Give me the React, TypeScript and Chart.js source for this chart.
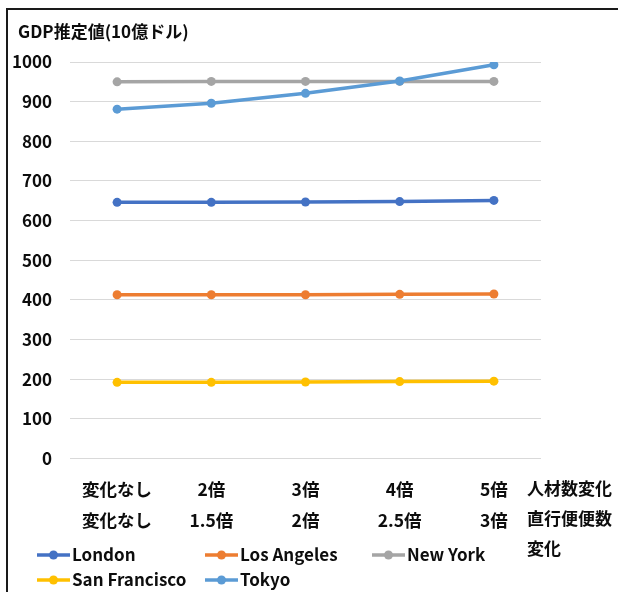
import { useEffect, useRef } from 'react';
import { Chart, registerables } from 'chart.js';

Chart.register(...registerables);

// Scenario labels: row 1 = staff multiplier, row 2 = direct-flight multiplier
const categories = [
  ['変化なし', '変化なし'],
  ['2倍', '1.5倍'],
  ['3倍', '2倍'],
  ['4倍', '2.5倍'],
  ['5倍', '3倍'],
];

// Estimated GDP (billions of USD) per city
const london = [646, 646, 647, 648, 651];
const losAngeles = [413, 413, 413, 414, 415];
const newYork = [950, 951, 951, 951, 951];
const sanFrancisco = [192, 192, 193, 194, 195];
const tokyo = [881, 896, 921, 952, 993];

const seriesNames = ['London', 'Los Angeles', 'New York', 'San Francisco', 'Tokyo'];
const seriesColors = ['#4472C4', '#ED7D31', '#A5A5A5', '#FFC000', '#5B9BD5'];

const yMin = 0;
const yMax = 1000;
const yStep = 100;

const yTitle = 'GDP推定値(10億ドル)';
const xTitleLines = ['人材数変化', '直行便便数', '変化'];

const FONT = '"Noto Sans CJK JP", "Noto Sans", sans-serif';
const TEXT = '#0d0d0d';

// Frame, axis titles and a fixed-column legend drawn on top of the chart
const decorations = {
  id: 'decorations',
  afterDraw(chart: any) {
    const ctx = chart.ctx as CanvasRenderingContext2D;
    const area = chart.chartArea;
    ctx.save();

    ctx.strokeStyle = '#1a1a1a';
    ctx.lineWidth = 2;
    ctx.strokeRect(7, 9, 2000, 2000);

    ctx.fillStyle = TEXT;
    ctx.font = `bold 17px ${FONT}`;
    ctx.textAlign = 'left';
    ctx.textBaseline = 'middle';
    ctx.fillText(yTitle, 18, 32);

    xTitleLines.forEach((line, i) => {
      ctx.fillText(line, area.right - 14, area.bottom + 30.5 + i * 30);
    });

    const cols = [37, 205, 372];
    const rows = [555, 580];
    chart.data.datasets.forEach((ds: any, i: number) => {
      const x0 = cols[i % 3];
      const y = rows[Math.floor(i / 3)];
      ctx.strokeStyle = ds.borderColor;
      ctx.lineWidth = 3.5;
      ctx.beginPath();
      ctx.moveTo(x0, y);
      ctx.lineTo(x0 + 33, y);
      ctx.stroke();
      ctx.fillStyle = ds.borderColor;
      ctx.beginPath();
      ctx.arc(x0 + 16.5, y, 4.5, 0, Math.PI * 2);
      ctx.fill();
      ctx.fillStyle = TEXT;
      ctx.fillText(ds.label, x0 + 35, y);
    });

    ctx.restore();
  },
};

export default function App() {
  const canvasRef = useRef<HTMLCanvasElement | null>(null);

  useEffect(() => {
    if (!canvasRef.current) return;
    const values = [london, losAngeles, newYork, sanFrancisco, tokyo];
    const chart = new Chart(canvasRef.current, {
      type: 'line',
      data: {
        labels: categories,
        datasets: values.map((data, i) => ({
          label: seriesNames[i],
          data,
          borderColor: seriesColors[i],
          backgroundColor: seriesColors[i],
          borderWidth: 3.5,
          pointRadius: 4.5,
          pointBorderWidth: 0,
          pointBackgroundColor: seriesColors[i],
          tension: 0,
          fill: false,
          order: values.length - i,
        })),
      },
      options: {
        responsive: false,
        animation: false,
        layout: { padding: { top: 62, right: 77, left: 0, bottom: 0 } },
        plugins: {
          legend: { display: false },
          title: { display: false },
          tooltip: { enabled: false },
        },
        scales: {
          x: {
            offset: true,
            grid: { display: false, drawTicks: false },
            border: { display: false },
            ticks: {
              color: TEXT,
              padding: 15,
              maxRotation: 0,
              autoSkip: false,
              font: { family: FONT, size: 17.5, weight: 'bold', lineHeight: 31 / 17.5 },
            },
            afterFit(scale: any) {
              scale.height = 133.5;
            },
          },
          y: {
            min: yMin,
            max: yMax,
            grid: { color: '#d9d9d9', lineWidth: 1, drawTicks: false },
            border: { display: false },
            ticks: {
              stepSize: yStep,
              color: TEXT,
              padding: 18,
              font: { family: FONT, size: 17, weight: 'bold' },
              callback: (value: any) => String(value),
            },
            afterFit(scale: any) {
              scale.width = 70;
            },
          },
        },
      },
      plugins: [decorations],
    });
    return () => chart.destroy();
  }, []);

  return (
    <div style={{ position: 'fixed', left: 0, top: 0, width: 618, height: 592, background: '#fff' }}>
      <canvas ref={canvasRef} width={618} height={592} />
    </div>
  );
}
